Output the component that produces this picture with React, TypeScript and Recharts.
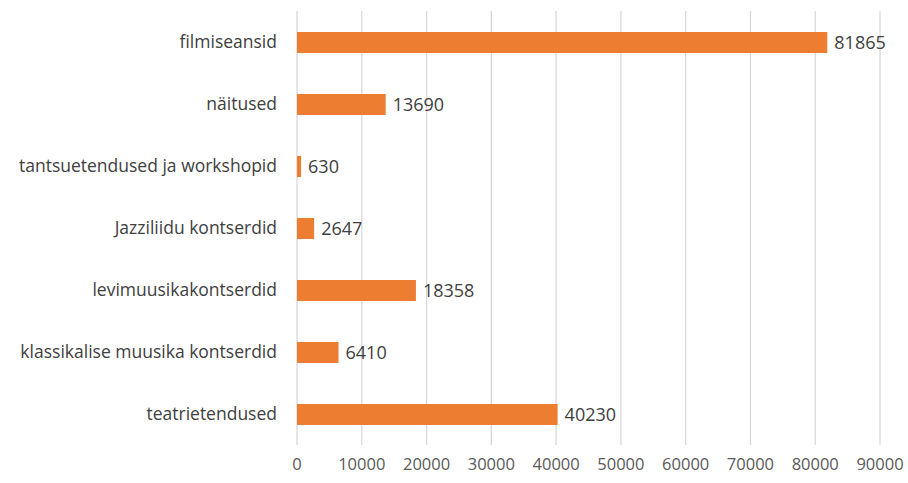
import { BarChart, Bar, XAxis, YAxis, CartesianGrid, LabelList } from 'recharts';

const categories = [
  'filmiseansid',
  'näitused',
  'tantsuetendused ja workshopid',
  'Jazziliidu kontserdid',
  'levimuusikakontserdid',
  'klassikalise muusika kontserdid',
  'teatrietendused',
];
const visits = [81865, 13690, 630, 2647, 18358, 6410, 40230];
const xTicks = [0, 10000, 20000, 30000, 40000, 50000, 60000, 70000, 80000, 90000];

const data = categories.map((name, i) => ({ name, value: visits[i] }));

const font = 'Open Sans, sans-serif';

export default function App() {
  return (
    <div style={{ position: 'absolute', left: 0, top: 0, background: '#fff' }}>
      <BarChart
        width={908}
        height={483}
        data={data}
        layout="vertical"
        margin={{ top: 11, right: 28, bottom: 8, left: 0 }}
        barSize={21}
      >
        <CartesianGrid horizontal={false} stroke="#d9d9d9" strokeWidth={1.3} />
        <XAxis
          type="number"
          domain={[0, 90000]}
          ticks={xTicks}
          interval={0}
          axisLine={false}
          tickLine={false}
          tickSize={0}
          tickMargin={13}
          height={30}
          tick={{ fill: '#595959', fontSize: 16.5, fontFamily: font }}
        />
        <YAxis
          type="category"
          dataKey="name"
          width={297}
          axisLine={false}
          tickLine={false}
          tickSize={0}
          tickMargin={20}
          interval={0}
          tick={{ fill: '#404040', fontSize: 17.5, fontFamily: font }}
        />
        <Bar dataKey="value" fill="#ed7d31" isAnimationActive={false}>
          <LabelList
            dataKey="value"
            position="right"
            offset={7}
            style={{ fill: '#404040', fontSize: 18, fontFamily: font }}
          />
        </Bar>
      </BarChart>
    </div>
  );
}
